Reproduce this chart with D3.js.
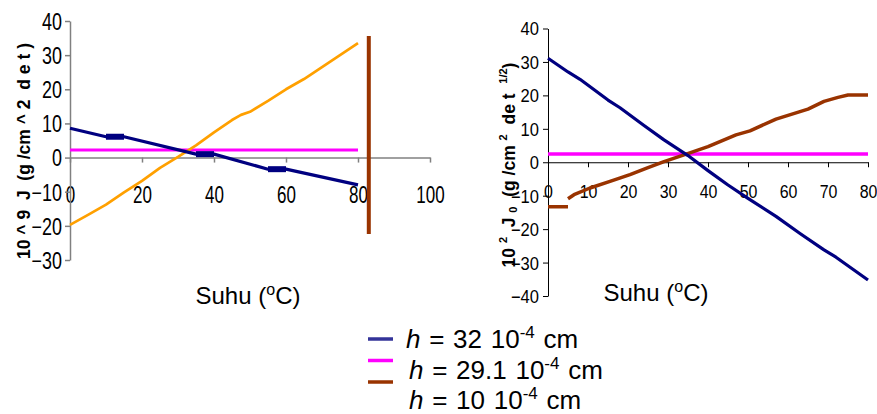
<!DOCTYPE html>
<html>
<head>
<meta charset="utf-8">
<script src="https://cdn.jsdelivr.net/npm/d3@7"></script>
<style>
  html, body { margin: 0; padding: 0; background: #fff; }
  svg { display: block; font-family: "Liberation Sans", Arial, sans-serif; }
  .ytitle { white-space: pre; }
</style>
</head>
<body>
<svg id="chart" width="877" height="414"></svg>
<script>
// ---- Left panel: J (10^9 g/cm^2 det) versus temperature ----
const leftNavy = [
  {x: 0, y: 8.6}, {x: 10, y: 6.1}, {x: 15, y: 6.1}, {x: 35, y: 1.0},
  {x: 40, y: 1.0}, {x: 55, y: -3.4}, {x: 60, y: -3.4}, {x: 80, y: -8.0}
];
// flat spans of the h = 32 series drawn with a heavier stroke
const leftNavyHeavy = [[10, 15], [35, 40], [55, 60]];
const leftMagenta = [{x: 0, y: 2.2}, {x: 80, y: 2.2}];
const leftOrange = [
  {x: 0, y: -19.7}, {x: 5, y: -16.8}, {x: 10, y: -13.8}, {x: 15, y: -10.2},
  {x: 20, y: -6.8}, {x: 25, y: -3.0}, {x: 30, y: 0.2}, {x: 35, y: 3.6},
  {x: 40, y: 7.4}, {x: 45, y: 11.0}, {x: 47.5, y: 12.5}, {x: 50, y: 13.4},
  {x: 55, y: 16.6}, {x: 60, y: 20.0}, {x: 65, y: 23.0}, {x: 70, y: 26.5},
  {x: 75, y: 30.0}, {x: 80, y: 33.5}
];
const leftBrown = [{x: 83, y: -22.4}, {x: 83, y: 35.6}];
const leftXTicks = [0, 20, 40, 60, 80, 100];
const leftYTicks = [-30, -20, -10, 0, 10, 20, 30, 40];

// ---- Right panel: J0 (10^2 g/cm^2 det^1/2) versus temperature ----
const rightNavy = [
  {x: 0, y: 31.1}, {x: 5, y: 27.0}, {x: 8, y: 24.8}, {x: 15, y: 18.6},
  {x: 18, y: 16.3}, {x: 24, y: 11.0}, {x: 29, y: 6.7}, {x: 35, y: 2.0},
  {x: 40, y: -2.5}, {x: 45, y: -6.8}, {x: 50, y: -10.8}, {x: 57, y: -16.2},
  {x: 63, y: -21.3}, {x: 69, y: -26.2}, {x: 72, y: -28.4}, {x: 80, y: -35.2}
];
const rightMagenta = [{x: 0, y: 2.5}, {x: 80, y: 2.5}];
const rightBrown = [
  {x: 0, y: -13.3}, {x: 5, y: -13.3}, {x: 5, y: null},
  {x: 5, y: -10.9}, {x: 6.5, y: -9.7}, {x: 10.5, y: -7.7}, {x: 15.5, y: -5.7},
  {x: 20.5, y: -3.7}, {x: 25, y: -1.6}, {x: 29, y: 0.2}, {x: 34, y: 2.2},
  {x: 40, y: 4.7}, {x: 47, y: 8.2}, {x: 50.5, y: 9.4}, {x: 57, y: 12.9},
  {x: 65, y: 15.9}, {x: 69, y: 18.2}, {x: 72.5, y: 19.4}, {x: 75, y: 20.1},
  {x: 80, y: 20.1}
];
const rightXTicks = [0, 10, 20, 30, 40, 50, 60, 70, 80];
const rightYTicks = [-40, -30, -20, -10, 0, 10, 20, 30, 40];

// ---- Legend ----
const legendItems = [
  {h: "32", color: "#333399"},
  {h: "29.1", color: "#ff00ff"},
  {h: "10", color: "#993300"}
];

const COLORS = {navy: "#000080", magenta: "#ff00ff", orange: "#ffa000", brown: "#993300"};

const svg = d3.select("#chart");

// squeeze tick labels horizontally around their own anchor
function condense(sel, sx) {
  sel.each(function () {
    const x = +this.getAttribute("x") || 0;
    d3.select(this).attr("transform", `translate(${x * (1 - sx)},0) scale(${sx},1)`);
  });
}

function lineGen(xs, ys) {
  return d3.line().defined(d => d.y !== null).x(d => xs(d.x)).y(d => ys(d.y));
}

// ================= LEFT PANEL =================
const xL = d3.scaleLinear().domain([0, 100]).range([70, 430]);
const yL = d3.scaleLinear().domain([-30, 40]).range([260, 21]);
const gL = svg.append("g");

const axL = gL.append("g").attr("transform", `translate(0,${yL(0)})`)
  .call(d3.axisBottom(xL).tickValues(leftXTicks).tickSize(5).tickSizeOuter(0));
axL.select(".domain").attr("stroke", "#808080").attr("stroke-width", 1.5);
axL.selectAll(".tick line").attr("stroke", "#808080").attr("stroke-width", 1.5);
axL.selectAll(".tick text").attr("font-size", 23).attr("fill", "#000")
  .attr("font-family", "Liberation Sans, Arial, sans-serif")
  .attr("y", 37).attr("dy", "0.36em")
  .call(condense, 0.74);

const ayL = gL.append("g").attr("transform", `translate(${xL(0)},0)`)
  .call(d3.axisLeft(yL).tickValues(leftYTicks).tickSize(5).tickPadding(3).tickSizeOuter(0));
ayL.select(".domain").attr("stroke", "#808080").attr("stroke-width", 1.5);
ayL.selectAll(".tick line").attr("stroke", "#808080").attr("stroke-width", 1.5);
ayL.selectAll(".tick text").attr("font-size", 23).attr("fill", "#000")
  .attr("font-family", "Liberation Sans, Arial, sans-serif")
  .attr("dy", "0.36em")
  .call(condense, 0.78);

const lineL = lineGen(xL, yL);
gL.append("path").datum(leftMagenta).attr("d", lineL)
  .attr("fill", "none").attr("stroke", COLORS.magenta).attr("stroke-width", 3);
gL.append("path").datum(leftOrange).attr("d", lineL)
  .attr("fill", "none").attr("stroke", COLORS.orange).attr("stroke-width", 2.7)
  .attr("stroke-linejoin", "round");
gL.append("path").datum(leftNavy).attr("d", lineL)
  .attr("fill", "none").attr("stroke", COLORS.navy).attr("stroke-width", 3.2)
  .attr("stroke-linejoin", "round");
leftNavyHeavy.forEach(([a, b]) => {
  gL.append("path").datum(leftNavy.filter(d => d.x >= a && d.x <= b)).attr("d", lineL)
    .attr("fill", "none").attr("stroke", COLORS.navy).attr("stroke-width", 6);
});
gL.append("path").datum(leftBrown).attr("d", lineL)
  .attr("fill", "none").attr("stroke", COLORS.brown).attr("stroke-width", 4);

// axis titles
function suhuTitle(g, cx, baseline) {
  const t = g.append("text").attr("x", cx).attr("y", baseline)
    .attr("text-anchor", "middle").attr("font-size", 24).attr("fill", "#000");
  t.append("tspan").text("Suhu (");
  t.append("tspan").attr("font-size", 16).attr("dy", -9).text("o");
  t.append("tspan").attr("dy", 9).text("C)");
}
suhuTitle(gL, 248, 304);

gL.append("text").attr("class", "ytitle")
  .attr("transform", "translate(30,151) rotate(-90)")
  .attr("text-anchor", "middle").attr("font-size", 17.5).attr("font-weight", "bold")
  .text("10 ^ 9  J  (g /cm ^ 2  d e t )");

// ================= RIGHT PANEL =================
const xR = d3.scaleLinear().domain([0, 80]).range([548, 868]);
const yR = d3.scaleLinear().domain([-40, 40]).range([296, 28.5]);
const gR = svg.append("g");

const axR = gR.append("g").attr("transform", `translate(0,${yR(0)})`)
  .call(d3.axisBottom(xR).tickValues(rightXTicks).tickSize(5).tickSizeOuter(0));
axR.select(".domain").attr("stroke", "#000").attr("stroke-width", 1);
axR.selectAll(".tick line").attr("stroke", "#000");
axR.selectAll(".tick text").attr("font-size", 19).attr("fill", "#000")
  .attr("font-family", "Liberation Sans, Arial, sans-serif")
  .attr("y", 29).attr("dy", "0.36em")
  .call(condense, 0.84);

const ayR = gR.append("g").attr("transform", `translate(${xR(0)},0)`)
  .call(d3.axisLeft(yR).tickValues(rightYTicks).tickSize(5).tickPadding(4).tickSizeOuter(0));
ayR.select(".domain").attr("stroke", "#000").attr("stroke-width", 1);
ayR.selectAll(".tick line").attr("stroke", "#000");
ayR.selectAll(".tick text").attr("font-size", 18).attr("fill", "#000")
  .attr("font-family", "Liberation Sans, Arial, sans-serif")
  .attr("dy", "0.36em")
  .call(condense, 0.92);

const lineR = lineGen(xR, yR);
gR.append("path").datum(rightMagenta).attr("d", lineR)
  .attr("fill", "none").attr("stroke", COLORS.magenta).attr("stroke-width", 3.5);
gR.append("path").datum(rightBrown).attr("d", lineR)
  .attr("fill", "none").attr("stroke", COLORS.brown).attr("stroke-width", 3.5)
  .attr("stroke-linejoin", "round");
gR.append("path").datum(rightNavy).attr("d", lineR)
  .attr("fill", "none").attr("stroke", COLORS.navy).attr("stroke-width", 3.2)
  .attr("stroke-linejoin", "round");

suhuTitle(gR, 656, 301);

const yt = gR.append("text").attr("class", "ytitle")
  .attr("transform", "translate(515,165) rotate(-90)")
  .attr("text-anchor", "middle").attr("font-size", 17.5).attr("font-weight", "bold");
yt.append("tspan").text("10 ");
yt.append("tspan").attr("font-size", 11).attr("dy", -8).text("2");
yt.append("tspan").attr("dy", 8).text("  J ");
yt.append("tspan").attr("font-size", 11).attr("dy", 2).text("0");
yt.append("tspan").attr("dy", -2).text("  (g /cm ");
yt.append("tspan").attr("font-size", 11).attr("dy", -8).text("2");
yt.append("tspan").attr("dy", 8).text("  de t  ");
yt.append("tspan").attr("font-size", 11).attr("dy", -8).text("1/2");
yt.append("tspan").attr("dy", 8).text(")");

// ================= LEGEND =================
const legY = d3.scalePoint().domain(legendItems.map(d => d.h)).range([339, 382]);
const textY = d3.scalePoint().domain(legendItems.map(d => d.h)).range([348, 409]);
const leg = svg.append("g");
legendItems.forEach((d, i) => {
  leg.append("line")
    .attr("x1", 368).attr("x2", 393)
    .attr("y1", legY(d.h)).attr("y2", legY(d.h))
    .attr("stroke", d.color).attr("stroke-width", 3.5);
  const t = leg.append("text").attr("x", i === 0 ? 406 : 409).attr("y", textY(d.h))
    .attr("font-size", 26).attr("word-spacing", 1.5).attr("fill", "#000");
  t.append("tspan").attr("font-style", "italic").text("h");
  t.append("tspan").text(` = ${d.h} 10`);
  t.append("tspan").attr("font-size", 17).attr("dy", -10).text("-4");
  t.append("tspan").attr("dy", 10).text(" cm");
});
</script>
</body>
</html>
